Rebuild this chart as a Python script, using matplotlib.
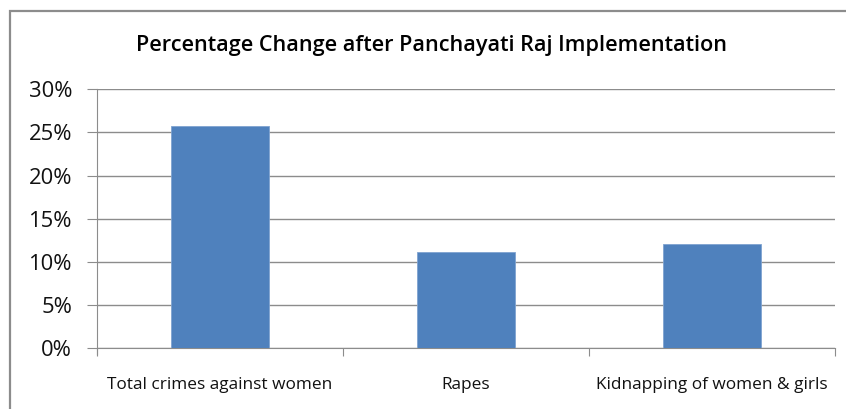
import matplotlib
matplotlib.use("Agg")
import matplotlib.pyplot as plt
from matplotlib.patches import Rectangle
from matplotlib.ticker import PercentFormatter

categories = ["Total crimes against women", "Rapes", "Kidnapping of women & girls"]
values = [25.8, 11.1, 12.1]
yticks = [0, 5, 10, 15, 20, 25, 30]
title = "Percentage Change after Panchayati Raj Implementation"

W, H = 846, 409
fig = plt.figure(figsize=(W / 100, H / 100), dpi=100)
fig.patch.set_facecolor("white")

# outer chart frame
fig.add_artist(Rectangle((10 / W, -0.1), 1.2, 1 - 11 / H + 0.1, transform=fig.transFigure,
                         fill=False, edgecolor="#8c8c8c", linewidth=1.6))

ax = fig.add_axes([97 / W, 1 - 348 / H, (835 - 97) / W, (348 - 89.3) / H])
x = range(len(categories))
ax.bar(x, values, width=0.4, color="#4F81BD", edgecolor="#7fa3d0", linewidth=0.6, zorder=3)
ax.set_xlim(-0.5, len(categories) - 0.5)
ax.set_ylim(0, 30)
ax.set_yticks(yticks)
ax.yaxis.set_major_formatter(PercentFormatter(decimals=0))
ax.grid(axis="y", color="#8c8c8c", linewidth=1.0, zorder=0)
ax.set_axisbelow(True)

for s in ["top", "right"]:
    ax.spines[s].set_visible(False)
ax.spines["left"].set_color("#8c8c8c")
ax.spines["bottom"].set_color("#8c8c8c")
ax.spines["left"].set_bounds(-0.7, 30)

ax.set_xticks([-0.5, 0.5, 1.5, 2.5])
ax.set_xticklabels([])
ax.set_xticks(list(x), minor=True)
ax.set_xticklabels(categories, minor=True, fontsize=12.4, family="Open Sans", color="#111111")
ax.tick_params(axis="x", which="major", length=6, color="#8c8c8c", direction="out")
ax.tick_params(axis="x", which="minor", length=0, pad=21)
ax.tick_params(axis="y", length=7, color="#8c8c8c", labelsize=15.8, pad=11, labelcolor="#111111")
for lab in ax.get_yticklabels():
    lab.set_family("Open Sans")

fig.text(431 / W, 1 - 45 / H, title, ha="center", va="center", fontsize=15.6,
         fontweight="semibold", family="Open Sans", color="#000000")

fig.savefig("out.png", dpi=100)
